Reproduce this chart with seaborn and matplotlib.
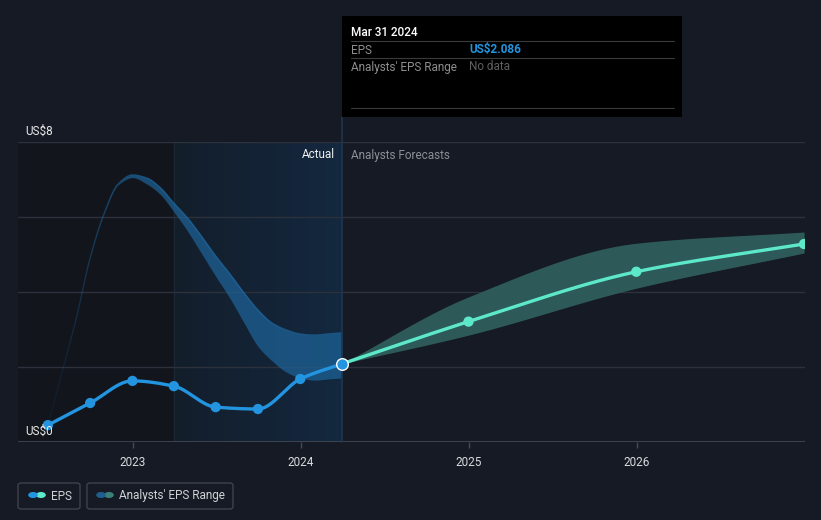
import numpy as np
import pandas as pd
import matplotlib
matplotlib.use("Agg")
import matplotlib.pyplot as plt
import matplotlib.dates as mdates
from matplotlib.patches import FancyBboxPatch, Rectangle, Circle
from matplotlib.colors import LinearSegmentedColormap, to_rgba
from matplotlib.collections import LineCollection
import seaborn as sns

# ---------------- data ----------------
eps_dates = ["2022-06-30", "2022-09-30", "2022-12-31", "2023-03-31",
             "2023-06-30", "2023-09-30", "2023-12-31", "2024-03-31"]
eps_values = [0.45, 1.04, 1.63, 1.49, 0.93, 0.88, 1.68, 2.086]

fc_dates = ["2024-03-31", "2024-12-31", "2025-12-31", "2026-12-31"]
fc_values = [2.086, 3.21, 4.54, 5.28]
fc_low = [2.086, 2.85, 4.10, 5.04]
fc_high = [2.086, 3.87, 5.30, 5.60]

rng_dates = ["2022-06-30", "2022-07-31", "2022-08-31", "2022-09-30",
             "2022-10-31", "2022-11-30", "2022-12-31", "2023-01-31",
             "2023-02-28", "2023-03-31", "2023-04-30", "2023-05-31",
             "2023-06-30", "2023-07-31", "2023-08-31", "2023-09-30",
             "2023-10-31", "2023-11-30", "2023-12-31", "2024-01-31",
             "2024-02-29", "2024-03-31"]
rng_high = [0.45, 1.87, 3.31, 4.91, 6.11, 6.88, 7.12, 7.04,
            6.80, 6.37, 5.97, 5.47, 4.96, 4.48, 3.97, 3.52,
            3.17, 2.99, 2.88, 2.85, 2.88, 2.91]
rng_low = [0.45, 1.87, 3.31, 4.91, 6.11, 6.86, 7.05, 6.88,
           6.62, 6.14, 5.62, 5.01, 4.42, 3.83, 3.17, 2.55,
           2.16, 1.87, 1.71, 1.65, 1.68, 1.71]

year_ticks = ["2023", "2024", "2025", "2026"]
y_labels = ["US$0", "US$8"]

# ---------------- colours ----------------
BG = "#151a24"
DARK = "#12151c"
BLUE = "#2394df"
TEAL = "#5de8c9"
BAND_PAST = "#1f6aa3"
BAND_FC = "#2f5e5b"
GRID = "#2c313b"

W, H = 821, 520

sns.set_theme(style="dark", rc={"axes.facecolor": BG, "figure.facecolor": BG})
plt.rcParams["font.family"] = ["Roboto", "DejaVu Sans"]


def pchip(x, y, xs):
    x = np.asarray(x, float)
    y = np.asarray(y, float)
    h = np.diff(x)
    d = np.diff(y) / h
    n = len(x)
    m = np.zeros(n)
    for k in range(1, n - 1):
        if d[k - 1] * d[k] > 0:
            w1 = 2 * h[k] + h[k - 1]
            w2 = h[k] + 2 * h[k - 1]
            m[k] = (w1 + w2) / (w1 / d[k - 1] + w2 / d[k])
        else:
            m[k] = 0.0
    m[0] = d[0]
    m[-1] = d[-1]
    out = np.empty_like(xs, dtype=float)
    for i, xv in enumerate(xs):
        k = np.searchsorted(x, xv) - 1
        k = min(max(k, 0), n - 2)
        t = (xv - x[k]) / h[k]
        h00 = 2 * t**3 - 3 * t**2 + 1
        h10 = t**3 - 2 * t**2 + t
        h01 = -2 * t**3 + 3 * t**2
        h11 = t**3 - t**2
        out[i] = h00 * y[k] + h10 * h[k] * m[k] + h01 * y[k + 1] + h11 * h[k] * m[k + 1]
    return out


def dnum(ds):
    return mdates.date2num(pd.to_datetime(ds))


fig = plt.figure(figsize=(W / 100, H / 100), dpi=100)
ax = fig.add_axes([18 / W, 78 / H, 787 / W, 300 / H])
ax.set_facecolor(BG)

x_left = dnum(["2022-04-26"])[0]
x_right = dnum(["2027-01-02"])[0]
x_now = dnum(["2024-03-31"])[0]
x_split = dnum(["2023-03-31"])[0]

# background regions
ax.axvspan(x_left, x_split, color=DARK, zorder=0, lw=0)
grad = np.linspace(0, 1, 256).reshape(1, -1)
cmap = LinearSegmentedColormap.from_list("g", ["#141e2b", "#13283f"])
ax.imshow(grad, cmap=cmap, aspect="auto", extent=[x_split, x_now, 0, 8.0],
          zorder=0.5, interpolation="bicubic")
ax.plot([x_split, x_split], [0, 8], color="#1c2838", lw=1, zorder=0.6)

# grid
for v in [2, 4, 6, 8]:
    ax.axhline(v, color=GRID, lw=1, zorder=1)
ax.axhline(0, color="#444a55", lw=1.2, zorder=1)

# past range band
rx = dnum(rng_dates)
xs = np.linspace(rx[0], rx[-1], 600)
lo = pchip(rx, rng_low, xs)
hi = pchip(rx, rng_high, xs)
ax.fill_between(xs, lo, hi, color=BAND_PAST, alpha=0.65, lw=0, zorder=2)
# thin edge line, fading towards the start
pts = np.column_stack([xs, hi]).reshape(-1, 1, 2)
segs = np.concatenate([pts[:-1], pts[1:]], axis=1)
frac = np.clip((xs[:-1] - xs[0]) / (dnum(["2022-12-31"])[0] - xs[0]), 0, 1)
base = np.array(to_rgba(BAND_PAST))
cols = np.tile(base, (len(segs), 1))
cols[:, 3] = 0.08 + 0.8 * frac ** 1.3
ax.add_collection(LineCollection(segs, colors=cols, linewidths=1.0, zorder=2))

# forecast band
fx = dnum(fc_dates)
xs2 = np.linspace(fx[0], fx[-1], 400)
flo = pchip(fx, fc_low, xs2)
fhi = pchip(fx, fc_high, xs2)
ax.fill_between(xs2, flo, fhi, color=BAND_FC, alpha=0.95, lw=0, zorder=2)

# EPS line (actual)
ex = dnum(eps_dates)
xs3 = np.linspace(ex[0], ex[-1], 400)
df_eps = pd.DataFrame({"x": xs3, "y": pchip(ex, eps_values, xs3)})
sns.lineplot(data=df_eps, x="x", y="y", ax=ax, color=BLUE, lw=2.4, zorder=4)
sns.scatterplot(x=ex[:-1], y=eps_values[:-1], ax=ax, color=BLUE, s=55,
                edgecolor="none", zorder=5)

# forecast line
df_fc = pd.DataFrame({"x": xs2, "y": pchip(fx, fc_values, xs2)})
sns.lineplot(data=df_fc, x="x", y="y", ax=ax, color=TEAL, lw=2.4, zorder=4)
sns.scatterplot(x=fx[1:], y=fc_values[1:], ax=ax, color=TEAL, s=55,
                edgecolor="none", zorder=5)
ax.scatter([ex[-1]], [eps_values[-1]], s=70, color=BLUE, edgecolor="white",
           linewidth=1.0, zorder=6)

# vertical cursor line
ax.plot([x_now, x_now], [0, 8.67], color="#1e3550", lw=1.2, zorder=3, clip_on=False)

ax.set_xlim(x_left, x_right)
ax.set_ylim(0, 8)
ax.set_xlabel("")
ax.set_ylabel("")
ax.set_yticks([])
tick_pos = dnum([f"{t}-01-01" for t in year_ticks])
ax.set_xticks(tick_pos)
ax.set_xticklabels(year_ticks, color="#d8dadd", fontsize=8.5)
ax.tick_params(axis="x", length=4, color="#444a55", width=1, pad=6, bottom=True)
for s in ax.spines.values():
    s.set_visible(False)
ax.grid(False)


def fx_(x):
    return x / W


def fy_(y):
    return 1 - y / H


fig.text(fx_(25), fy_(131), y_labels[1], color="#e8e8e8", fontsize=8.5, va="center", ha="left")
fig.text(fx_(25), fy_(431), y_labels[0], color="#e8e8e8", fontsize=8.5, va="center", ha="left",
         zorder=3)
fig.text(fx_(335), fy_(155), "Actual", color="#f0f0f0", fontsize=8.5, va="center", ha="right")
fig.text(fx_(351), fy_(155), "Analysts Forecasts", color="#8b8f96", fontsize=8.5,
         va="center", ha="left")

# tooltip
fig.patches.append(Rectangle((fx_(342), fy_(117)), (682 - 342) / W, (117 - 16) / H,
                             transform=fig.transFigure, facecolor="black",
                             edgecolor="none", zorder=10))
for yy in [41, 58, 108]:
    fig.lines.append(plt.Line2D([fx_(351), fx_(674)], [fy_(yy), fy_(yy)],
                                transform=fig.transFigure, color="#3a3a3a", lw=0.8,
                                zorder=11))
fig.text(fx_(351), fy_(32), "Mar 31 2024", color="white", fontsize=8.5, va="center",
         ha="left", zorder=12, fontweight="medium")
fig.text(fx_(351), fy_(50), "EPS", color="#8e8e8e", fontsize=8.5, va="center", ha="left",
         zorder=12)
fig.text(fx_(469), fy_(50), "US$2.086", color=BLUE, fontsize=8.5, va="center", ha="left",
         zorder=12, fontweight="bold")
fig.text(fx_(351), fy_(67), "Analysts' EPS Range", color="#8e8e8e", fontsize=8.5,
         va="center", ha="left", zorder=12)
fig.text(fx_(469), fy_(67), "No data", color="#5f5f5f", fontsize=8.5, va="center",
         ha="left", zorder=12)


# legend
def legend_box(x0, x1, label, c1, c2, dx):
    fig.patches.append(FancyBboxPatch((fx_(x0), fy_(509)), (x1 - x0) / W, 26 / H,
                                      boxstyle="round,pad=0,rounding_size=0.004",
                                      transform=fig.transFigure, facecolor="none",
                                      edgecolor="#3d424c", lw=1.0))
    r = 4.8
    fig.patches.append(Circle((fx_(dx + 8), fy_(495)), r / W, transform=fig.transFigure,
                              facecolor=c2, edgecolor="none"))
    fig.patches.append(Circle((fx_(dx), fy_(495)), r / W, transform=fig.transFigure,
                              facecolor=c1, edgecolor="none"))
    fig.text(fx_(dx + 18), fy_(496), label, color="#d0d2d6", fontsize=8.5,
             va="center", ha="left")


legend_box(18, 80, "EPS", BLUE, TEAL, 33)
legend_box(87, 233, "Analysts' EPS Range", "#1f5f8f", "#3a7f78", 101)

fig.savefig("out.png", dpi=100, facecolor=BG)
